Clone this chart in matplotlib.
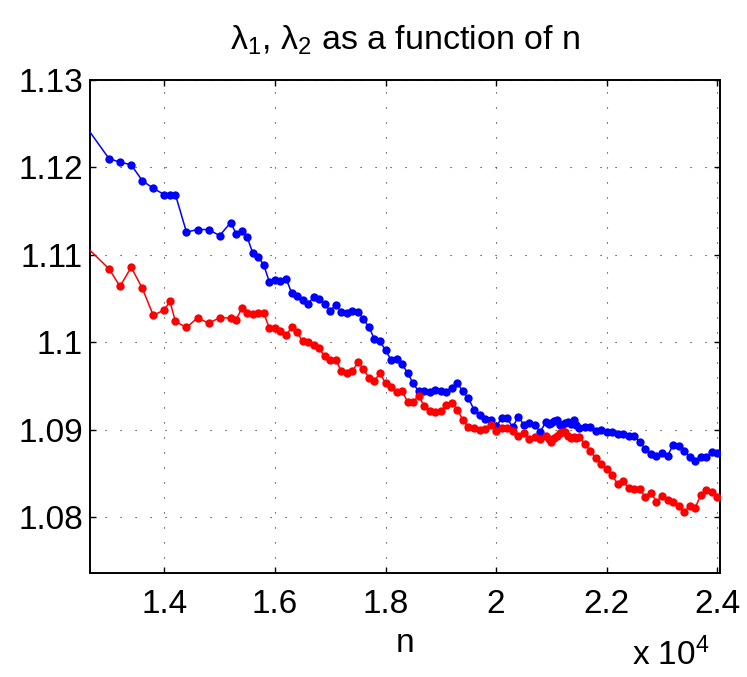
import matplotlib
matplotlib.use("Agg")
import matplotlib.pyplot as plt
from matplotlib.ticker import FixedLocator, FixedFormatter

plt.rcParams['font.family'] = ['Liberation Sans', 'DejaVu Sans']
plt.rcParams['mathtext.fontset'] = 'custom'
plt.rcParams['mathtext.rm'] = 'Liberation Sans'
plt.rcParams['mathtext.it'] = 'Liberation Sans'
plt.rcParams['mathtext.default'] = 'regular'
plt.rcParams['lines.scale_dashes'] = False

n_values = [12400, 13000, 13200, 13400, 13600, 13800, 14000, 14100, 14200, 14400,
            14600, 14800, 15000, 15200, 15300, 15400, 15500, 15600, 15700, 15800,
            15900, 16000, 16100, 16200, 16300, 16400, 16500, 16600, 16700, 16800,
            16900, 17000, 17100, 17200, 17300, 17400, 17500, 17600, 17700, 17800,
            17900, 18000, 18100, 18200, 18300, 18400, 18500, 18600, 18700, 18800,
            18900, 19000, 19100, 19200, 19300, 19400, 19500, 19600, 19700, 19800,
            19900, 20000, 20100, 20200, 20300, 20400, 20500, 20600, 20700, 20800,
            20900, 20950, 21000, 21050, 21100, 21150, 21200, 21250, 21300, 21350,
            21400, 21450, 21500, 21600, 21700, 21800, 21900, 22000, 22100, 22200,
            22300, 22400, 22500, 22600, 22700, 22800, 22900, 23000, 23100, 23200,
            23300, 23400, 23500, 23600, 23700, 23800, 23900, 24000]

lambda1 = [1.1263, 1.1210, 1.1206, 1.1203, 1.1185, 1.1176, 1.1169, 1.1169, 1.1169, 1.1126,
           1.1129, 1.1129, 1.1122, 1.1137, 1.1124, 1.1127, 1.1120, 1.1102, 1.1098, 1.1088,
           1.1069, 1.1071, 1.1070, 1.1073, 1.1057, 1.1053, 1.1049, 1.1044, 1.1052, 1.1050,
           1.1044, 1.1036, 1.1043, 1.1035, 1.1034, 1.1036, 1.1035, 1.1027, 1.1017, 1.1004,
           1.1001, 1.0991, 1.0980, 1.0981, 1.0975, 1.0965, 1.0953, 1.0944, 1.0944, 1.0943,
           1.0945, 1.0944, 1.0943, 1.0948, 1.0953, 1.0944, 1.0936, 1.0923, 1.0917, 1.0912,
           1.0911, 1.0904, 1.0913, 1.0913, 1.0903, 1.0915, 1.0906, 1.0908, 1.0905, 1.0898,
           1.0909, 1.0907, 1.0908, 1.0910, 1.0911, 1.0906, 1.0905, 1.0908, 1.0909, 1.0907,
           1.0911, 1.0906, 1.0902, 1.0903, 1.0903, 1.0899, 1.0900, 1.0897, 1.0897, 1.0895,
           1.0895, 1.0893, 1.0893, 1.0886, 1.0878, 1.0872, 1.0870, 1.0873, 1.0870, 1.0883,
           1.0881, 1.0876, 1.0869, 1.0864, 1.0869, 1.0869, 1.0875, 1.0873]

lambda2 = [1.1121, 1.1084, 1.1064, 1.1086, 1.1062, 1.1031, 1.1037, 1.1047, 1.1024, 1.1017,
           1.1028, 1.1022, 1.1028, 1.1028, 1.1026, 1.1039, 1.1034, 1.1032, 1.1033, 1.1033,
           1.1016, 1.1016, 1.1013, 1.1008, 1.1017, 1.1012, 1.1001, 1.1000, 1.0997, 1.0993,
           1.0984, 1.0980, 1.0980, 1.0967, 1.0965, 1.0967, 1.0977, 1.0970, 1.0959, 1.0956,
           1.0965, 1.0953, 1.0949, 1.0943, 1.0944, 1.0932, 1.0932, 1.0939, 1.0927, 1.0922,
           1.0920, 1.0921, 1.0928, 1.0931, 1.0923, 1.0911, 1.0903, 1.0902, 1.0900, 1.0901,
           1.0906, 1.0899, 1.0902, 1.0902, 1.0899, 1.0893, 1.0896, 1.0890, 1.0892, 1.0889,
           1.0893, 1.0890, 1.0886, 1.0891, 1.0893, 1.0896, 1.0898, 1.0897, 1.0893, 1.0891,
           1.0892, 1.0891, 1.0892, 1.0884, 1.0876, 1.0868, 1.0861, 1.0855, 1.0848, 1.0838,
           1.0841, 1.0833, 1.0832, 1.0832, 1.0823, 1.0828, 1.0818, 1.0824, 1.0820, 1.0817,
           1.0813, 1.0806, 1.0813, 1.0811, 1.0825, 1.0831, 1.0829, 1.0823]

x_ticks = [14000, 16000, 18000, 20000, 22000, 24000]
x_tick_labels = ["1.4", "1.6", "1.8", "2", "2.2", "2.4"]
y_ticks = [1.08, 1.09, 1.10, 1.11, 1.12, 1.13]
y_tick_labels = ["1.08", "1.09", "1.1", "1.11", "1.12", "1.13"]

fig = plt.figure(figsize=(7.47, 6.77), dpi=100)
ax = fig.add_axes([0.1205, 0.1532, 0.8427, 0.7287])

ax.plot(n_values, lambda1, color=(0, 0, 1), lw=1.1, marker='o', markersize=6.0,
        markeredgewidth=0, zorder=3)
ax.plot(n_values, lambda2, color=(1, 0, 0), lw=1.1, marker='o', markersize=6.0,
        markeredgewidth=0, zorder=3)

ax.set_xlim(12656, 24040)
ax.set_ylim(1.0736, 1.13)

ax.xaxis.set_major_locator(FixedLocator(x_ticks))
ax.xaxis.set_major_formatter(FixedFormatter(x_tick_labels))
ax.yaxis.set_major_locator(FixedLocator(y_ticks))
ax.yaxis.set_major_formatter(FixedFormatter(y_tick_labels))

ax.grid(True, color='0.15', linewidth=0.8, linestyle=(0, (0.8, 10.0)))
ax.tick_params(direction='in', length=4, width=1.0, top=True, right=True,
               labelsize=24, colors='black')
ax.tick_params(axis='x', pad=11)
ax.tick_params(axis='y', pad=5)
for s in ax.spines.values():
    s.set_linewidth(1.4)

ax.set_title(r'$\lambda_1$, $\lambda_2$ as a function of n', fontsize=24.5, pad=22)
ax.set_xlabel('n', fontsize=24, labelpad=6)
ax.text(0.985, -0.13, r'x $10^4$', transform=ax.transAxes, ha='right', va='top',
        fontsize=24)

fig.savefig('out.png', dpi=100)
